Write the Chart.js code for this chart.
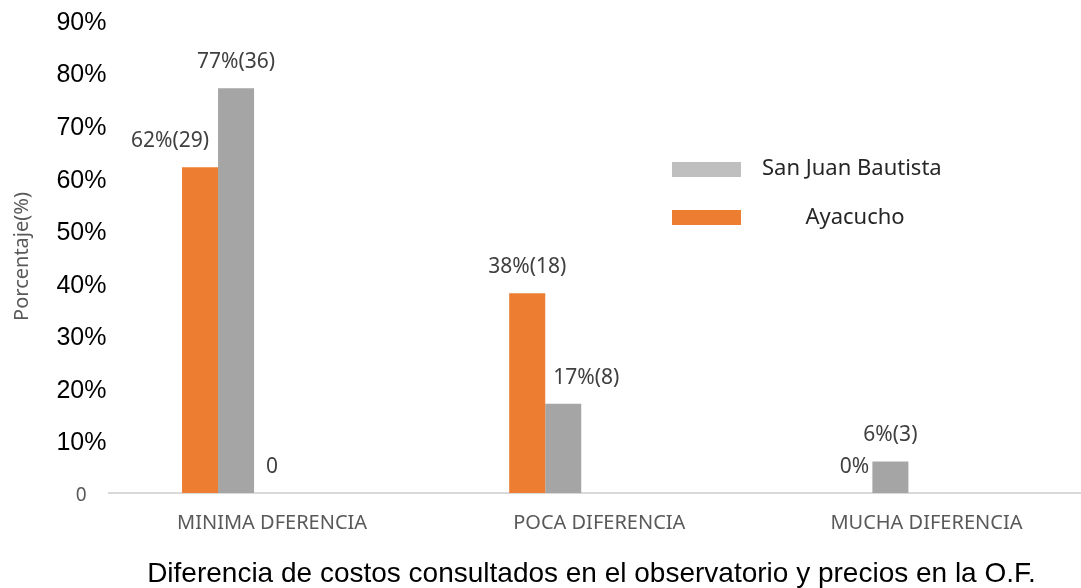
<!DOCTYPE html>
<html>
<head>
<meta charset="utf-8">
<script src="https://cdn.jsdelivr.net/npm/chart.js@4"></script>
<style>
  html, body { margin: 0; padding: 0; background: #fff; overflow: hidden; }
  #marco { width: 1081px; height: 588px; overflow: hidden; }
</style>
</head>
<body>
<div id="marco">
  <canvas id="grafico" width="1090" height="588"></canvas>
</div>
<script>
// datos del grafico
const categorias = ['MINIMA DFERENCIA', 'POCA DIFERENCIA', 'MUCHA DIFERENCIA'];
const ayacucho = [62, 38, 0];
const sanJuan = [77, 17, 6];
const otraSerie = [0, null, null];
const etiquetasAyacucho = ['62%(29)', '38%(18)', '0%'];
const etiquetasSanJuan = ['77%(36)', '17%(8)', '6%(3)'];
const etiquetasOtra = ['0', '', ''];
const ticksY = [0, 10, 20, 30, 40, 50, 60, 70, 80, 90];

const NARANJA = '#ED7D31';
const GRIS = '#A5A5A5';

// etiquetas encima de las barras
const pluginEtiquetas = {
  id: 'etiquetas',
  afterDatasetsDraw(chart) {
    const ctx = chart.ctx;
    ctx.save();
    ctx.font = '21px "Noto Sans"';
    ctx.fillStyle = '#404040';
    ctx.textAlign = 'center';
    ctx.textBaseline = 'middle';
    chart.data.datasets.forEach((ds, i) => {
      if (!ds.etiquetas) return;
      const meta = chart.getDatasetMeta(i);
      ds.etiquetas.forEach((txt, j) => {
        if (!txt) return;
        const barra = meta.data[j];
        const dx = (ds.desplazar && ds.desplazar[j]) || 0;
        ctx.fillText(txt, barra.x + dx, barra.y - 26);
      });
    });
    ctx.restore();
  }
};

// leyenda a la derecha
const pluginLeyenda = {
  id: 'leyenda',
  afterDraw(chart) {
    const ctx = chart.ctx;
    ctx.save();
    ctx.fillStyle = '#BFBFBF';
    ctx.fillRect(672, 162, 69, 15);
    ctx.fillStyle = NARANJA;
    ctx.fillRect(672, 210, 69, 15);
    ctx.font = '22px "Noto Sans"';
    ctx.fillStyle = '#262626';
    ctx.textBaseline = 'middle';
    ctx.textAlign = 'left';
    ctx.fillText('San Juan Bautista', 762, 169);
    ctx.textAlign = 'center';
    ctx.fillText('Ayacucho', 855, 218);
    ctx.restore();
  }
};

new Chart(document.getElementById('grafico'), {
  type: 'bar',
  data: {
    labels: categorias,
    datasets: [
      { label: 'Ayacucho', data: ayacucho, backgroundColor: NARANJA,
        etiquetas: etiquetasAyacucho, desplazar: [-30, 0, 0] },
      { label: 'San Juan Bautista', data: sanJuan, backgroundColor: GRIS,
        etiquetas: etiquetasSanJuan, desplazar: [0, 23, 0] },
      { label: '', data: otraSerie, backgroundColor: GRIS, etiquetas: etiquetasOtra },
      { label: '', data: [null, null, null] },
      { label: '', data: [null, null, null] }
    ]
  },
  options: {
    responsive: false,
    animation: false,
    layout: { padding: { top: 20, right: 0, bottom: 0, left: 0 } },
    datasets: {
      bar: { categoryPercentage: 0.5505, barPercentage: 1, borderWidth: 0 }
    },
    plugins: {
      legend: { display: false },
      tooltip: { enabled: false }
    },
    scales: {
      x: {
        grid: { display: false, drawTicks: false },
        border: { display: true, color: '#D9D9D9', width: 2 },
        ticks: {
          font: { family: 'Noto Sans', size: 20 },
          color: '#595959',
          padding: 18,
          maxRotation: 0
        },
        title: {
          display: true,
          // los espacios finales corren el titulo un poco a la izquierda
          text: 'Diferencia de costos consultados en el observatorio y precios en la O.F.  ',
          font: { family: 'Liberation Sans', size: 28, lineHeight: 1 },
          color: '#000',
          padding: { top: 0, bottom: 0 }
        },
        afterFit: s => { s.height = 95; }
      },
      y: {
        min: 0,
        max: 90,
        afterBuildTicks: s => { s.ticks = ticksY.map(v => ({ value: v })); },
        grid: { display: false, drawTicks: false },
        border: { display: false },
        ticks: {
          padding: 2,
          labelOffset: 3,
          callback: v => v === 0 ? '0    ' : v + '%',
          font: c => c.tick && c.tick.value === 0
            ? { family: 'Noto Sans', size: 19 }
            : { family: 'Liberation Sans', size: 25 },
          color: c => c.tick && c.tick.value === 0 ? '#595959' : '#000'
        },
        title: {
          display: true,
          text: 'Porcentaje(%)',
          font: { family: 'Noto Sans', size: 20 },
          color: '#595959',
          padding: { top: 10, bottom: 0 }
        },
        afterFit: s => { s.width = 108.5; }
      }
    }
  },
  plugins: [pluginEtiquetas, pluginLeyenda]
});
</script>
</body>
</html>
